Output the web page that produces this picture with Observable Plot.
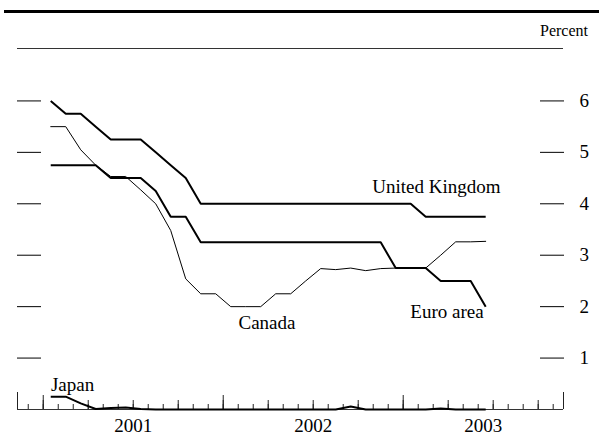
<!DOCTYPE html>
<html><head><meta charset="utf-8">
<script src="https://cdn.jsdelivr.net/npm/d3@7"></script>
<script src="https://cdn.jsdelivr.net/npm/@observablehq/plot@0.6"></script>
<style>
body{margin:0;background:#fff;}
#wrap{position:relative;width:599px;height:436px;overflow:hidden;font-family:"Liberation Serif","Times New Roman",serif;}
#chart{position:absolute;left:0;top:0;}
#topRule{position:absolute;left:4px;top:10px;width:595px;height:3px;background:#000;}
#unit{position:absolute;right:11px;top:21px;font-size:16px;line-height:20px;color:#000;}
#subRule{position:absolute;left:17px;top:48px;width:546px;height:1px;background:#333;}
</style></head>
<body>
<div id="wrap"><div id="chart"></div><div id="topRule"></div><div id="unit">Percent</div><div id="subRule"></div></div>
<script>
// Monthly observations, Jan 2001 – Jun 2003
const months = ["2001-01","2001-02","2001-03","2001-04","2001-05","2001-06","2001-07","2001-08","2001-09","2001-10","2001-11","2001-12",
  "2002-01","2002-02","2002-03","2002-04","2002-05","2002-06","2002-07","2002-08","2002-09","2002-10","2002-11","2002-12",
  "2003-01","2003-02","2003-03","2003-04","2003-05","2003-06"];
const ukRate = [6.0,5.75,5.75,5.5,5.25,5.25,5.25,5.0,4.75,4.5,4.0,4.0,
  4.0,4.0,4.0,4.0,4.0,4.0,4.0,4.0,4.0,4.0,4.0,4.0,
  4.0,3.75,3.75,3.75,3.75,3.75];
const euroRate = [4.75,4.75,4.75,4.75,4.5,4.5,4.5,4.25,3.75,3.75,3.25,3.25,
  3.25,3.25,3.25,3.25,3.25,3.25,3.25,3.25,3.25,3.25,3.25,2.75,
  2.75,2.75,2.5,2.5,2.5,2.0];
const canadaRate = [5.5,5.5,5.05,4.75,4.53,4.53,4.27,4.0,3.48,2.54,2.25,2.25,
  2.0,2.0,2.0,2.25,2.25,2.5,2.74,2.72,2.75,2.70,2.74,2.75,
  2.75,2.75,3.0,3.26,3.26,3.27];
const japanRate = [0.25,0.25,0.12,0.01,0.03,0.04,0.01,0.0,0.0,0.0,0.0,0.0,
  0.0,0.0,0.0,0.0,0.0,0.0,0.0,0.0,0.06,0.0,0.0,0.0,
  0.0,0.0,0.02,0.0,0.0,0.0];
const yTicks = [1,2,3,4,5,6];
const yearTicks = [2001,2002,2003];
const yearLabels = ["2001","2002","2003"];
const seriesLabels = [
  {name:"United Kingdom", x:2003.184, y:4.32},
  {name:"Canada", x:2002.243, y:1.69},
  {name:"Euro area", x:2003.243, y:1.90},
  {name:"Japan", x:2001.163, y:0.47}
];

const toYear = m => { const [y, mo] = m.split("-").map(Number); return y + (mo - 0.5) / 12; };
function series(name, values) { return months.map((m, i) => ({name, x: toYear(m), v: values[i]})); }
const uk = series("United Kingdom", ukRate);
const euro = series("Euro area", euroRate);
const canada = series("Canada", canadaRate);
const japan = series("Japan", japanRate);

const xDomain = [2000.857, 2003.8906];
const monthTicks = d3.range(Math.ceil(xDomain[0]*12), Math.floor(xDomain[1]*12)+1).map(k => k/12);
const quarterTicks = monthTicks.filter(t => Math.abs(t*4 - Math.round(t*4)) < 1e-6);
const yearLabelData = yearTicks.map((y, i) => ({label: yearLabels[i], x: (Math.max(y, xDomain[0]) + Math.min(y+1, xDomain[1]))/2}));

const font = {fontFamily: "Liberation Serif, Times New Roman, serif", fontSize: 19, fill: "#000"};

const chart = Plot.plot({
  width: 599, height: 436,
  marginLeft: 17, marginRight: 36, marginTop: 49, marginBottom: 27,
  style: {fontFamily: "Liberation Serif, serif", background: "transparent"},
  x: {domain: xDomain},
  y: {domain: [0, 7]},
  marks: [
    Plot.axisY(yTicks, {anchor: "left", tickSize: -24, tickFormat: () => "", label: null, stroke: "#000"}),
    Plot.axisY(yTicks, {anchor: "right", tickSize: -24, tickFormat: () => "", label: null, stroke: "#000"}),
    Plot.text(yTicks, {y: d => d, text: d => String(d), frameAnchor: "right", textAnchor: "start", dx: 16, ...font}),
    Plot.axisX(monthTicks, {tickSize: -5, tickFormat: () => "", label: null, stroke: "#222"}),
    Plot.axisX(quarterTicks, {tickSize: -9, tickFormat: () => "", label: null, stroke: "#222"}),
    Plot.axisX(yearTicks, {tickSize: -14, tickFormat: () => "", label: null, stroke: "#222"}),
    Plot.axisX(xDomain, {tickSize: -17, tickFormat: () => "", label: null, stroke: "#222"}),
    Plot.ruleY([0], {stroke: "#333"}),
    Plot.line(canada, {x: "x", y: "v", stroke: "#000", strokeWidth: 1, strokeLinejoin: "miter"}),
    Plot.line(uk, {x: "x", y: "v", stroke: "#000", strokeWidth: 2, strokeLinejoin: "miter", strokeLinecap: "butt"}),
    Plot.line(euro, {x: "x", y: "v", stroke: "#000", strokeWidth: 2, strokeLinejoin: "miter", strokeLinecap: "butt"}),
    Plot.line(japan, {x: "x", y: "v", stroke: "#000", strokeWidth: 2, strokeLinejoin: "miter", strokeLinecap: "butt"}),
    Plot.text(seriesLabels, {x: "x", y: "y", text: "name", textAnchor: "middle", ...font}),
    Plot.text(yearLabelData, {x: "x", y: () => 0, text: "label", dy: 16, textAnchor: "middle", ...font})
  ]
});
document.getElementById("chart").appendChild(chart);
</script>
</body></html>
